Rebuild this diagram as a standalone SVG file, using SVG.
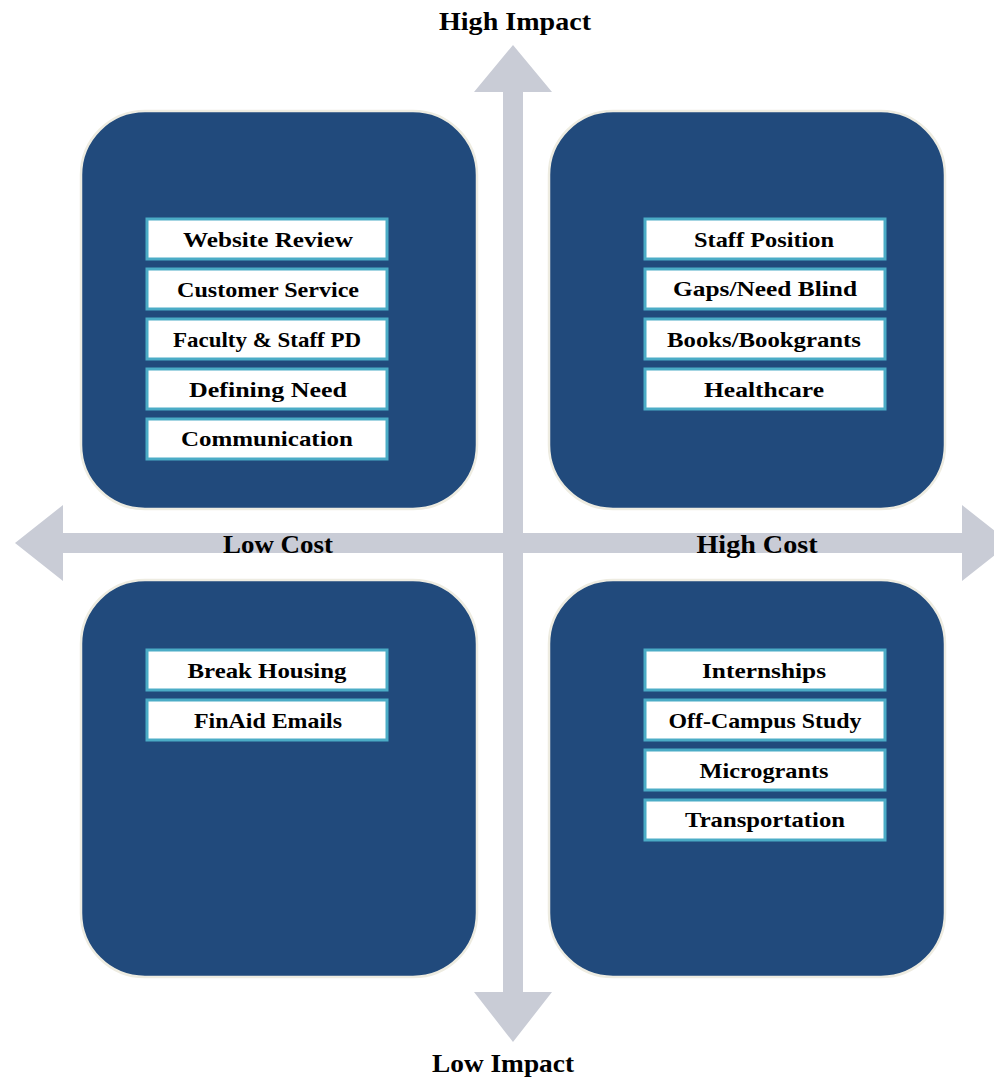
<svg xmlns="http://www.w3.org/2000/svg" width="994" height="1077" viewBox="0 0 994 1077">
  <style>
    .quad { fill: #214A7C; stroke: #EEECE1; stroke-width: 2.5; }
    .item rect { fill: #FFFFFF; stroke: #4BACC6; stroke-width: 3; }
    .item text { font-family: "Liberation Serif", "DejaVu Serif", serif; font-weight: bold; font-size: 21px; fill: #000000; text-anchor: middle; }
    .axis { fill: #C9CCD6; }
    .axis-label { font-family: "Liberation Serif", "DejaVu Serif", serif; font-weight: bold; font-size: 25px; fill: #000000; text-anchor: middle; }
  </style>

  <rect width="994" height="1077" fill="#FFFFFF"/>

  <!-- axes -->
  <g id="connectors">
    <path class="axis" d="M513,45 L552,92 L523,92 L523,992 L552,992 L513,1042 L474,992 L503,992 L503,92 L474,92 Z"/>
    <path class="axis" d="M15,543 L63,505 L63,533 L962,533 L962,505 L1010,543 L962,581 L962,553 L63,553 L63,581 Z"/>
  </g>

  <!-- quadrant panels -->
  <g id="quad-low-cost-high-impact">
    <rect class="quad" x="81" y="111" width="396" height="398" rx="64" ry="64"/>
  </g>
  <g id="quad-high-cost-high-impact">
    <rect class="quad" x="549" y="111" width="396" height="398" rx="64" ry="64"/>
  </g>
  <g id="quad-low-cost-low-impact">
    <rect class="quad" x="81" y="580" width="396" height="397" rx="64" ry="64"/>
  </g>
  <g id="quad-high-cost-low-impact">
    <rect class="quad" x="549" y="580" width="396" height="397" rx="64" ry="64"/>
  </g>

  <!-- low cost / high impact items -->
  <g id="website-review" class="item">
    <rect x="147" y="219" width="240" height="40"/>
    <text x="268" y="247" textLength="170" lengthAdjust="spacingAndGlyphs">Website Review</text>
  </g>
  <g id="customer-service" class="item">
    <rect x="147" y="269" width="240" height="40"/>
    <text x="268" y="297" textLength="182" lengthAdjust="spacingAndGlyphs">Customer Service</text>
  </g>
  <g id="faculty-staff-pd" class="item">
    <rect x="147" y="319" width="240" height="40"/>
    <text x="267" y="347" textLength="188" lengthAdjust="spacingAndGlyphs">Faculty &amp; Staff PD</text>
  </g>
  <g id="defining-need" class="item">
    <rect x="147" y="369" width="240" height="40"/>
    <text x="268" y="397" textLength="158" lengthAdjust="spacingAndGlyphs">Defining Need</text>
  </g>
  <g id="communication" class="item">
    <rect x="147" y="419" width="240" height="40"/>
    <text x="267" y="446" textLength="172" lengthAdjust="spacingAndGlyphs">Communication</text>
  </g>

  <!-- high cost / high impact items -->
  <g id="staff-position" class="item">
    <rect x="645" y="219" width="240" height="40"/>
    <text x="764" y="247" textLength="140" lengthAdjust="spacingAndGlyphs">Staff Position</text>
  </g>
  <g id="gaps-need-blind" class="item">
    <rect x="645" y="269" width="240" height="40"/>
    <text x="765" y="296" textLength="184" lengthAdjust="spacingAndGlyphs">Gaps/Need Blind</text>
  </g>
  <g id="books-bookgrants" class="item">
    <rect x="645" y="319" width="240" height="40"/>
    <text x="764" y="347" textLength="194" lengthAdjust="spacingAndGlyphs">Books/Bookgrants</text>
  </g>
  <g id="healthcare" class="item">
    <rect x="645" y="369" width="240" height="40"/>
    <text x="764" y="397" textLength="120" lengthAdjust="spacingAndGlyphs">Healthcare</text>
  </g>

  <!-- low cost / low impact items -->
  <g id="break-housing" class="item">
    <rect x="147" y="650" width="240" height="40"/>
    <text x="267" y="678" textLength="159" lengthAdjust="spacingAndGlyphs">Break Housing</text>
  </g>
  <g id="finaid-emails" class="item">
    <rect x="147" y="700" width="240" height="40"/>
    <text x="268" y="728" textLength="148" lengthAdjust="spacingAndGlyphs">FinAid Emails</text>
  </g>

  <!-- high cost / low impact items -->
  <g id="internships" class="item">
    <rect x="645" y="650" width="240" height="40"/>
    <text x="764" y="678" textLength="124" lengthAdjust="spacingAndGlyphs">Internships</text>
  </g>
  <g id="off-campus-study" class="item">
    <rect x="645" y="700" width="240" height="40"/>
    <text x="765" y="728" textLength="193" lengthAdjust="spacingAndGlyphs">Off-Campus Study</text>
  </g>
  <g id="microgrants" class="item">
    <rect x="645" y="750" width="240" height="40"/>
    <text x="764" y="778" textLength="129" lengthAdjust="spacingAndGlyphs">Microgrants</text>
  </g>
  <g id="transportation" class="item">
    <rect x="645" y="800" width="240" height="40"/>
    <text x="765" y="827" textLength="160" lengthAdjust="spacingAndGlyphs">Transportation</text>
  </g>

  <!-- axis labels -->
  <g id="axis-labels">
    <text class="axis-label" x="515" y="30" textLength="152" lengthAdjust="spacingAndGlyphs">High Impact</text>
    <text class="axis-label" x="278" y="553" textLength="110" lengthAdjust="spacingAndGlyphs">Low Cost</text>
    <text class="axis-label" x="757" y="553" textLength="121" lengthAdjust="spacingAndGlyphs">High Cost</text>
    <text class="axis-label" x="503" y="1072" textLength="142" lengthAdjust="spacingAndGlyphs">Low Impact</text>
  </g>
</svg>
